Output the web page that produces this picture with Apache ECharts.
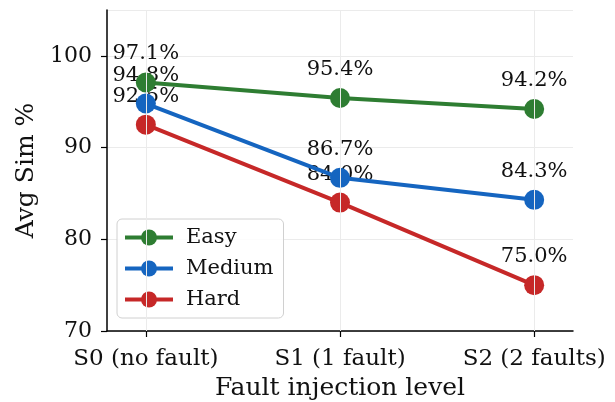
<!DOCTYPE html>
<html><head><meta charset="utf-8">
<script src="https://cdn.jsdelivr.net/npm/echarts@6/dist/echarts.min.js"></script>
<style>html,body{margin:0;padding:0;background:#fff}#c{width:615px;height:402px}</style>
</head><body><div id="c"></div>
<script>
const categories = ['S0 (no fault)', 'S1 (1 fault)', 'S2 (2 faults)'];
const easy = [97.1, 95.4, 94.2];
const medium = [94.8, 86.7, 84.3];
const hard = [92.5, 84.0, 75.0];
const yTicks = [70, 80, 90, 100];
const seriesNames = ['Easy', 'Medium', 'Hard'];
const colors = ['#2e7d32', '#1565c0', '#c62828'];

const FONT = 'DejaVu Serif';
const chart = echarts.init(document.getElementById('c'), null, {renderer: 'canvas'});
function mk(name, vals, color, z) {
  return {
    name, type: 'line', z,
    data: vals.map((v, i) => [i, v]),
    symbol: 'circle', symbolSize: 20,
    lineStyle: {width: 4, color},
    itemStyle: {color, borderWidth: 0},
    label: {show: true, position: 'top', distance: 8, formatter: p => p.value[1].toFixed(1) + '%',
            fontFamily: FONT, fontSize: 21, color: '#111'},
    emphasis: {disabled: true},
    animation: false
  };
}
chart.setOption({
  animation: false,
  grid: {left: 107, right: 42, top: 10, bottom: 71, containLabel: false, outerBoundsMode: 'none'},
  xAxis: {
    type: 'value', min: -0.2, max: 2.2,
    name: 'Fault injection level', nameLocation: 'middle', nameGap: 43,
    nameTextStyle: {fontFamily: FONT, fontSize: 25, color: '#111'},
    axisLine: {onZero: false, lineStyle: {color: '#000', width: 1.5}},
    axisTick: {customValues: [0, 1, 2], length: 6, lineStyle: {color: '#000', width: 1.2}},
    axisLabel: {customValues: [0, 1, 2], formatter: v => categories[Math.round(v)], margin: 17,
                fontFamily: FONT, fontSize: 23, color: '#111'},
    splitLine: {show: false}
  },
  yAxis: {
    type: 'value', min: 70, max: 105, interval: 10,
    name: 'Avg Sim %', nameLocation: 'middle', nameGap: 56,
    nameTextStyle: {fontFamily: FONT, fontSize: 25, color: '#111'},
    axisLine: {show: true, onZero: false, lineStyle: {color: '#000', width: 1.5}},
    axisTick: {show: true, length: 6, lineStyle: {color: '#000', width: 1.2}},
    axisLabel: {showMaxLabel: false, margin: 15, fontFamily: FONT, fontSize: 22, color: '#111',
                formatter: v => yTicks.includes(v) ? String(v) : ''},
    splitLine: {show: true, lineStyle: {color: '#ebebeb', width: 1}}
  },
  legend: {
    left: 117, top: 219, orient: 'vertical',
    data: seriesNames,
    itemWidth: 48, itemHeight: 20, itemGap: 10,
    padding: [8, 10, 8, 6],
    backgroundColor: 'rgba(255,255,255,0.85)',
    borderColor: '#d0d0d0', borderWidth: 1, borderRadius: 5,
    lineStyle: {width: 4},
    textStyle: {fontFamily: FONT, fontSize: 21, color: '#111', padding: [0, 0, 0, 8]}
  },
  series: [
    {
      name: 'grid', type: 'line', z: 0, data: [], silent: true,
      markLine: {silent: true, symbol: ['none', 'none'], label: {show: false},
        lineStyle: {color: '#ebebeb', width: 1, type: 'solid'},
        data: [0, 1, 2].map(x => ({xAxis: x}))},
      animation: false
    },
    mk(seriesNames[0], easy, colors[0], 4),
    mk(seriesNames[1], medium, colors[1], 3),
    mk(seriesNames[2], hard, colors[2], 2)
  ]
});
</script></body></html>
